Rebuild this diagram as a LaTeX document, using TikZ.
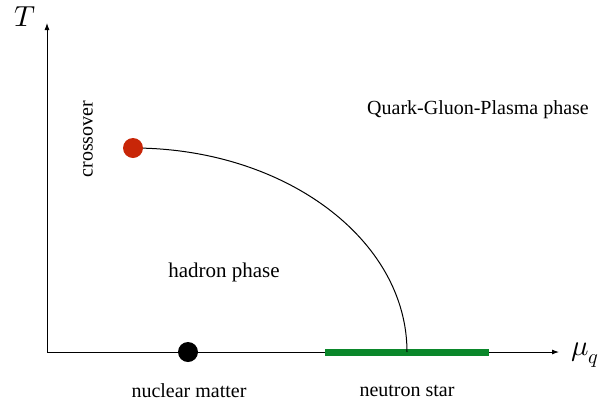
\documentclass[tikz,border=0pt]{standalone}
\usepackage{fontspec}
\setmainfont{Liberation Serif}
\usepackage{unicode-math}
\setmathfont{Latin Modern Math}
\usetikzlibrary{arrows.meta}
\definecolor{cpred}{RGB}{200,38,8}
\definecolor{nsgreen}{RGB}{10,135,42}
\begin{document}
\begin{tikzpicture}[x=1pt,y=-1pt,
  axis/.style={line width=0.9pt,-{Latex[length=7pt,width=5pt]}},
  lbl/.style={font=\fontsize{20}{24}\selectfont,inner sep=0pt},
  axlbl/.style={font=\fontsize{29}{32}\selectfont,inner sep=0pt},
  dot/.style={circle,inner sep=0pt,minimum size=20pt}]
\useasboundingbox (0,0) rectangle (602,405);
\coordinate (O) at (47,352);
\coordinate (ytip) at (47,23);
\coordinate (xtip) at (559,352);
\node[axlbl] (Tl) at (25,17) {$T$};
\node[axlbl] (mul) at (585,355) {$\mu_q$};
\draw[axis] (O) -- (ytip);
\draw[axis] (O) -- (xtip);
\draw[line width=7pt,nsgreen] (325,352) coordinate (ns1) -- (489,352) coordinate (ns2);
\coordinate (cpc) at (133,148);
\coordinate (end) at (407,352);
\draw[line width=1pt] (cpc) .. controls (284,148) and (407,239) .. (end);
\node[dot,fill=cpred] (cp) at (cpc) {};
\node[dot,fill=black] (nm) at (188,352) {};
\node[lbl,rotate=90] (cross) at (88,139) {crossover};
\node[lbl,font=\fontsize{21}{24}\selectfont] (hadron) at (224,272) {hadron phase};
\node[lbl] (qgp) at (478,110) {Quark-Gluon-Plasma phase};
\node[lbl] (nmt) at (189,391) {nuclear matter};
\node[lbl] (nst) at (407,391) {neutron star};
\end{tikzpicture}
\end{document}
